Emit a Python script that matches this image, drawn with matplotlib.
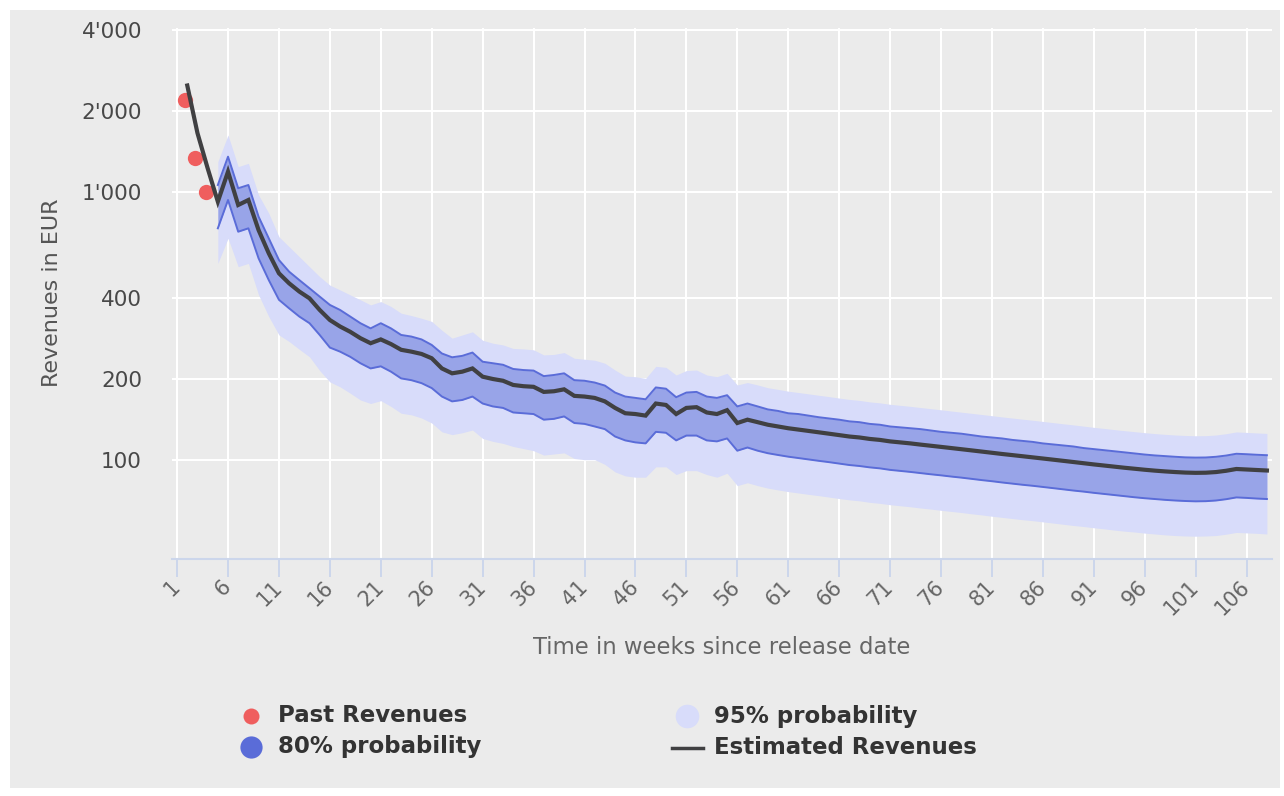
import numpy as np
import matplotlib
matplotlib.use('Agg')
import matplotlib.pyplot as plt
from matplotlib.patches import Rectangle
from matplotlib.lines import Line2D
from matplotlib.ticker import NullLocator

# past observations
past_weeks = [1.8, 2.8, 3.8]
past_revenues = [2200, 1336, 1000]

# estimated revenues, weeks 2..108
est_weeks = np.arange(2, 109)
est_revenues = [2490, 1655, 1223, 918, 1188, 892, 931, 719, 589, 496,
                455, 424, 400, 362, 332, 314, 300, 284, 272, 281,
                270, 257, 253, 248, 239, 219, 210, 213, 219, 204,
                200, 197, 190, 188, 187, 179, 180, 183, 173, 172,
                170, 165, 156, 149, 148, 146, 162, 160, 148, 156,
                157, 150, 148, 153, 137, 141, 138, 135, 133, 131,
                129.5, 128, 126.5, 125, 123.5, 122, 121, 119.5, 118.5, 117,
                116, 115, 113.8, 112.7, 111.6, 110.5, 109.4, 108.3, 107.2, 106.1,
                105, 104, 103, 102, 101, 100, 99, 98, 97, 96,
                95.1, 94.2, 93.3, 92.5, 91.7, 91, 90.4, 89.9, 89.5, 89.3,
                89.4, 89.9, 90.9, 92.3, 91.9, 91.5, 91.1]

# probability bands, weeks 5..108
band_weeks = np.arange(5, 109)
upper80 = [1059, 1351, 1030, 1059, 807, 670, 556, 503, 468, 436,
           406, 378, 362, 342, 323, 309, 323, 309, 292, 288,
           281, 268, 249, 241, 244, 251, 232, 229, 226, 218,
           216, 215, 205, 207, 210, 198, 197, 194, 189, 178,
           172, 170, 168, 186, 184, 171, 178, 179, 172, 170,
           174, 158, 162, 158, 154, 152, 149, 148, 146, 144,
           142.5, 141, 139, 138, 136, 135, 133, 132, 131, 130,
           128.5, 127, 126, 125, 123.5, 122, 121, 120, 118.5, 117.5,
           116.5, 115, 114, 113, 112, 110.5, 109.5, 108.5, 107.5, 106.5,
           105.5, 104.5, 103.7, 103.1, 102.5, 102, 101.8, 101.9, 102.5, 103.6,
           105.2, 104.8, 104.3, 103.9]
lower80 = [730, 931, 709, 730, 564, 468, 395, 367, 342, 323,
           292, 262, 253, 242, 229, 219, 223, 213, 201, 198,
           193, 185, 172, 165, 167, 172, 162, 158, 156, 150,
           149, 148, 141, 142, 145, 137, 136, 133, 130, 122,
           118, 116, 115, 127, 126, 118, 123, 123, 118, 117,
           120, 108, 111, 108, 105.7, 104.1, 102.6, 101.4, 100.2, 99,
           97.9, 96.7, 95.5, 94.7, 93.6, 92.8, 91.6, 90.8, 90, 89.1,
           88.2, 87.4, 86.5, 85.7, 84.8, 83.9, 83.1, 82.2, 81.4, 80.6,
           79.9, 79.1, 78.3, 77.5, 76.7, 76, 75.2, 74.5, 73.8, 73.1,
           72.4, 71.8, 71.3, 70.8, 70.4, 70.1, 69.9, 70, 70.4, 71.2,
           72.3, 72, 71.6, 71.3]
upper95 = [1294, 1628, 1240, 1276, 972, 831, 679, 623, 572, 525,
           482, 448, 430, 412, 395, 378, 389, 373, 352, 345,
           337, 328, 304, 284, 292, 300, 279, 272, 268, 260,
           259, 257, 246, 247, 251, 239, 237, 235, 229, 216,
           205, 204, 201, 223, 221, 207, 215, 216, 207, 204,
           210, 190, 194, 190, 185.6, 182.9, 180.1, 178.1, 176, 173.9,
           171.9, 169.8, 167.8, 166.4, 164.3, 162.9, 160.9, 159.5, 158.1, 156.5,
           155, 153.5, 151.9, 150.4, 148.9, 147.4, 145.9, 144.4, 143, 141.6,
           140.3, 138.9, 137.5, 136.1, 134.8, 133.4, 132, 130.8, 129.5, 128.3,
           127.2, 126.1, 125.1, 124.3, 123.6, 123.1, 122.8, 122.9, 123.6, 125,
           126.9, 126.4, 125.8, 125.3]
lower95 = [540, 670, 525, 540, 412, 342, 292, 276, 258, 242,
           215, 195, 187, 177, 167, 162, 166, 158, 149, 147,
           143, 137, 127, 124, 126, 129, 120, 117, 115, 112,
           110, 108, 104, 105, 106, 101, 100, 100, 96, 90,
           87, 86, 86, 94, 94, 88, 91, 91, 88, 86,
           89, 80, 82, 80, 78.3, 77.1, 76, 75.1, 74.2, 73.4,
           72.5, 71.6, 70.8, 70.2, 69.3, 68.7, 67.9, 67.3, 66.7, 66,
           65.4, 64.7, 64.1, 63.5, 62.8, 62.2, 61.5, 60.9, 60.3, 59.7,
           59.2, 58.6, 58, 57.4, 56.8, 56.3, 55.7, 55.2, 54.6, 54.1,
           53.7, 53.2, 52.8, 52.4, 52.1, 51.9, 51.8, 51.9, 52.1, 52.7,
           53.5, 53.3, 53.1, 52.8]

xticks = list(range(1, 107, 5))
yticks = [100, 200, 400, 1000, 2000, 4000]
yticklabels = ["100", "200", "400", "1'000", "2'000", "4'000"]

bg = '#ebebeb'
c_past = '#ef5e5e'
c_est = '#404042'
c_80 = '#5a6cd8'
c_80fill = '#98a4e8'
c_95 = '#d8dcfa'
c_axis = '#ccd6eb'

W, H = 1284, 796
fig = plt.figure(figsize=(W/100, H/100), dpi=100, facecolor='white')
fig.patches.append(Rectangle((10/W, 8/H), 1270/W, 778/H, transform=fig.transFigure,
                             facecolor=bg, edgecolor='none', zorder=-10))

ax = fig.add_axes([172/W, (H-558.7)/H, 1100/W, 530.4/H])
ax.set_facecolor(bg)

ax.fill_between(band_weeks, lower95, upper95, color=c_95, lw=0, zorder=2)
ax.fill_between(band_weeks, lower80, upper80, color=c_80fill, lw=0, zorder=3)
ax.plot(band_weeks, upper80, color=c_80, lw=1.4, zorder=4)
ax.plot(band_weeks, lower80, color=c_80, lw=1.4, zorder=4)
ax.plot(past_weeks, past_revenues, 'o', color=c_past, ms=11, mec='none', zorder=5)
ax.plot(est_weeks, est_revenues, color=c_est, lw=3, zorder=6, solid_joinstyle='miter')

ax.set_yscale('log')
ax.set_ylim(42.7, 4071)
ax.set_xlim(0.5, 108.5)
ax.set_yticks(yticks)
ax.set_yticklabels(yticklabels)
ax.yaxis.set_minor_locator(NullLocator())
ax.set_xticks(xticks)
ax.set_xticklabels([str(t) for t in xticks])

ax.grid(True, color='white', lw=1.5)
ax.set_axisbelow(True)
for s in ['top', 'right', 'left']:
    ax.spines[s].set_visible(False)
ax.spines['bottom'].set_color(c_axis)
ax.spines['bottom'].set_linewidth(1.5)

ax.tick_params(axis='y', length=0, pad=21.6, labelsize=15.5, labelcolor='#484848')
ax.tick_params(axis='x', length=13, width=1.4, color=c_axis, pad=5,
               labelsize=15, labelcolor='#666666')
plt.setp(ax.get_xticklabels(), rotation=45, ha='right', va='center',
         rotation_mode='anchor')

fig.text(51.7/W, 1-293/H, 'Revenues in EUR', rotation=90, ha='center', va='center',
         fontsize=16, color='#555555')
fig.text(722/W, 1-648/H, 'Time in weeks since release date', ha='center', va='center',
         fontsize=16.4, color='#666666')

# legend
legend_items = [
    (251, 716, 'o', c_past, 11.5, 'Past Revenues'),
    (687, 716, 'o', c_95, 17, '95% probability'),
    (251, 747, 'o', c_80, 16, '80% probability'),
]
for x, y, m, c, ms, label in legend_items:
    fig.add_artist(Line2D([x/W], [1-y/H], marker=m, color=c, ms=ms, mec='none',
                          ls='none', transform=fig.transFigure))
    fig.text(277.6/W if x < 500 else 714.3/W, 1-y/H, label, ha='left', va='center',
             fontsize=16.5, fontweight='bold', color='#333333')
fig.add_artist(Line2D([672/W, 702.5/W], [1-748/H, 1-748/H], color=c_est, lw=2.5,
                      transform=fig.transFigure))
fig.text(714.3/W, 1-747/H, 'Estimated Revenues', ha='left', va='center',
         fontsize=16.5, fontweight='bold', color='#333333')

fig.savefig('out.png', dpi=100, facecolor='white')
